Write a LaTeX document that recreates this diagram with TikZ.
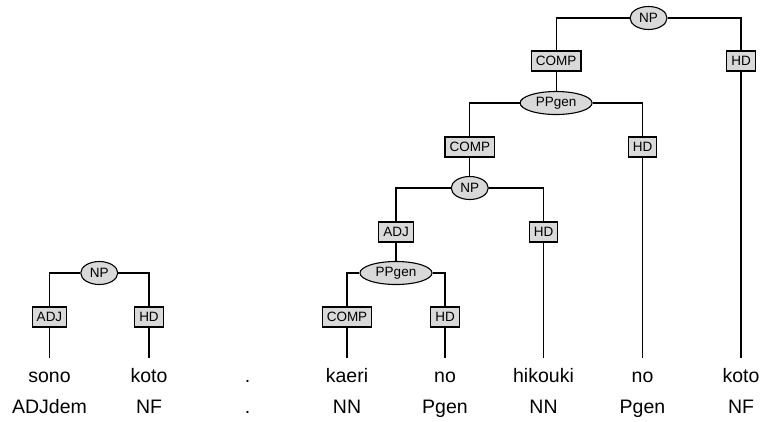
\documentclass[tikz,border=0pt]{standalone}
\usepackage{fontspec}
\setmainfont{Liberation Sans}
\usetikzlibrary{shapes}

\begin{document}
\begin{tikzpicture}[x=1pt,y=-1pt]
	\tikzstyle{every node}=[scale=1.0000]
	\tikzstyle{cat}=[ellipse, draw=black, line width=1.1000pt, fill=black!15, inner sep=0pt, minimum height=23pt, font=\fontsize{13.5}{13.5}\selectfont]
	\tikzstyle{fn}=[rectangle, draw=black, line width=1.4000pt, fill=black!15, inner xsep=4.5pt, inner ysep=0pt, minimum height=20pt, font=\fontsize{13.5}{13.5}\selectfont]
	\tikzstyle{word}=[anchor=base, inner xsep=0pt, inner ysep=10pt, text height=14pt, text depth=4pt, font=\fontsize{19.5}{20}\selectfont]
	\tikzstyle{tag}=[anchor=base, inner sep=0pt, font=\fontsize{19.5}{20}\selectfont]
	\tikzstyle{edge}=[line width=1.2000pt, black]

	\useasboundingbox (0.0000,0.0000) rectangle (760.0000,421.0000);

	%% words and tags
	\node [word] (sono) at (49.5000,382.0000) {sono};
	\node [word] (kotoa) at (149.0000,382.0000) {koto};
	\node [word] (dota) at (247.5000,382.0000) {.};
	\node [word] (kaeri) at (347.0000,382.0000) {kaeri};
	\node [word] (noa) at (445.0000,382.0000) {no};
	\node [word] (hikouki) at (543.5000,382.0000) {hikouki};
	\node [word] (nob) at (642.5000,382.0000) {no};
	\node [word] (kotob) at (741.0000,382.0000) {koto};

	\node [tag] (adjdem) at (49.5000,413.0000) {ADJdem};
	\node [tag] (nfa) at (149.0000,413.0000) {NF};
	\node [tag] (dotb) at (247.5000,413.0000) {.};
	\node [tag] (nna) at (347.0000,413.0000) {NN};
	\node [tag] (pgena) at (445.0000,413.0000) {Pgen};
	\node [tag] (nnb) at (543.5000,413.0000) {NN};
	\node [tag] (pgenb) at (642.5000,413.0000) {Pgen};
	\node [tag] (nfb) at (741.0000,413.0000) {NF};

	%% sono koto
	\node [cat, minimum width=37pt] (npa) at (99.2500,273.0000) {NP};
	\node [fn] (adja) at (49.5000,317.0000) {ADJ};
	\node [fn] (hda) at (149.0000,317.0000) {HD};

	%% kaeri no hikouki no koto
	\node [cat, minimum width=37pt] (npc) at (648.5500,18.0000) {NP};
	\node [fn] (compc) at (556.1000,61.0000) {COMP};
	\node [fn] (hde) at (741.0000,61.0000) {HD};

	\node [cat, minimum width=72pt] (ppb) at (556.1000,103.0000) {PPgen};
	\node [fn] (compb) at (469.7500,147.0000) {COMP};
	\node [fn] (hdd) at (642.5000,147.0000) {HD};

	\node [cat, minimum width=37pt] (npb) at (469.7500,188.0000) {NP};
	\node [fn] (adjb) at (396.0000,232.0000) {ADJ};
	\node [fn] (hdc) at (543.5000,232.0000) {HD};

	\node [cat, minimum width=72pt] (ppa) at (396.0000,273.0000) {PPgen};
	\node [fn] (compa) at (347.0000,317.0000) {COMP};
	\node [fn] (hdb) at (445.0000,317.0000) {HD};

	%% edges
	\draw [edge] (npa.west) -| (adja.north);
	\draw [edge] (npa.east) -| (hda.north);
	\draw [edge] (adja.south) -- (sono.north);
	\draw [edge] (hda.south) -- (kotoa.north);

	\draw [edge] (npc.west) -| (compc.north);
	\draw [edge] (npc.east) -| (hde.north);
	\draw [edge] (compc.south) -- (ppb.north);
	\draw [edge] (hde.south) -- (kotob.north);

	\draw [edge] (ppb.west) -| (compb.north);
	\draw [edge] (ppb.east) -| (hdd.north);
	\draw [edge] (compb.south) -- (npb.north);
	\draw [edge] (hdd.south) -- (nob.north);

	\draw [edge] (npb.west) -| (adjb.north);
	\draw [edge] (npb.east) -| (hdc.north);
	\draw [edge] (adjb.south) -- (ppa.north);
	\draw [edge] (hdc.south) -- (hikouki.north);

	\draw [edge] (ppa.west) -| (compa.north);
	\draw [edge] (ppa.east) -| (hdb.north);
	\draw [edge] (compa.south) -- (kaeri.north);
	\draw [edge] (hdb.south) -- (noa.north);

\end{tikzpicture}
\end{document}
